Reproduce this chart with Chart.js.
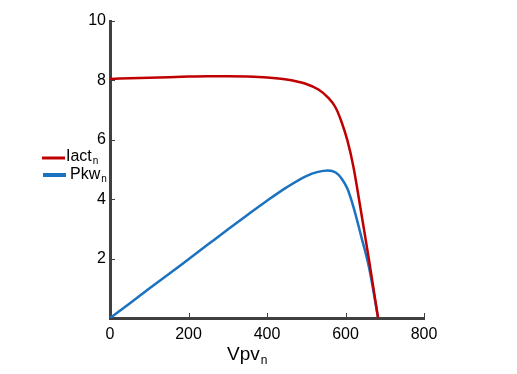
<!DOCTYPE html>
<html>
<head>
<meta charset="utf-8">
<script src="https://cdn.jsdelivr.net/npm/chart.js@4"></script>
<style>
  html, body { margin: 0; padding: 0; background: #fff; }
  #wrap { width: 517px; height: 374px; }
</style>
</head>
<body>
<div id="wrap"><canvas id="ivChart" width="517" height="374"></canvas></div>
<script>
// Normalized PV curve data
const vpv = [0, 50, 100, 150, 200, 250, 300, 350, 400, 450, 500, 530, 555, 575, 590, 605, 620, 640, 660, 683];
const iact = [8.05, 8.07, 8.09, 8.11, 8.13, 8.14, 8.14, 8.13, 8.1, 8.03, 7.88, 7.7, 7.43, 7.08, 6.6, 5.97, 5.1, 3.55, 1.95, 0];
const pkw = [0, 0.49, 0.99, 1.48, 1.98, 2.48, 2.98, 3.47, 3.95, 4.4, 4.78, 4.92, 4.97, 4.9, 4.7, 4.35, 3.75, 2.75, 1.7, 0];
const xTicks = [0, 200, 400, 600, 800];
const yTicks = [2, 4, 6, 8, 10];

const RED = '#c00000';
const BLUE = '#1a72c0';
const AXIS = '#404040';
const FONT = "'Liberation Sans', Arial, sans-serif";

function pts(ys) {
  return vpv.map((v, i) => ({ x: v, y: ys[i] }));
}

// text with a small subscript "n"
function subText(ctx, x, y, main, sub, size) {
  ctx.font = size + 'px ' + FONT;
  ctx.textAlign = 'left';
  ctx.textBaseline = 'middle';
  ctx.fillStyle = '#000';
  ctx.fillText(main, x, y);
  const w = ctx.measureText(main).width;
  ctx.font = Math.round(size * 0.62) + 'px ' + FONT;
  ctx.fillText(sub, x + w + 1, y + size * 0.28);
}

// inward tick marks, legend and x title
const extras = {
  id: 'extras',
  afterDraw(chart) {
    const ctx = chart.ctx;
    const xs = chart.scales.x, ys = chart.scales.y;
    const area = chart.chartArea;
    ctx.save();
    ctx.strokeStyle = AXIS;
    ctx.lineWidth = 1;
    xTicks.slice(1).forEach(t => {
      const px = Math.round(xs.getPixelForValue(t)) + 0.5;
      ctx.beginPath();
      ctx.moveTo(px, area.bottom);
      ctx.lineTo(px, area.bottom - 5);
      ctx.stroke();
    });
    yTicks.forEach(t => {
      const py = Math.round(ys.getPixelForValue(t)) + 0.5;
      ctx.beginPath();
      ctx.moveTo(area.left, py);
      ctx.lineTo(area.left + 5, py);
      ctx.stroke();
    });

    // legend
    ctx.lineCap = 'butt';
    ctx.strokeStyle = RED;
    ctx.lineWidth = 3;
    ctx.beginPath();
    ctx.moveTo(42, 158);
    ctx.lineTo(65, 158);
    ctx.stroke();
    subText(ctx, 66, 157, 'Iact', 'n', 16);
    ctx.strokeStyle = BLUE;
    ctx.lineWidth = 4;
    ctx.beginPath();
    ctx.moveTo(43, 175);
    ctx.lineTo(66, 175);
    ctx.stroke();
    subText(ctx, 70, 175, 'Pkw', 'n', 16);

    // x axis title
    subText(ctx, 227, 355, 'Vpv', 'n', 19);
    ctx.restore();
  }
};

function initializeChart() {
  const ctx = document.getElementById('ivChart').getContext('2d');
  new Chart(ctx, {
    type: 'line',
    data: {
      datasets: [
        {
          label: 'Iact',
          data: pts(iact),
          borderColor: RED,
          borderWidth: 2.5,
          pointRadius: 0,
          cubicInterpolationMode: 'monotone',
          fill: false
        },
        {
          label: 'Pkw',
          data: pts(pkw),
          borderColor: BLUE,
          borderWidth: 2.5,
          pointRadius: 0,
          cubicInterpolationMode: 'monotone',
          fill: false
        }
      ]
    },
    options: {
      responsive: false,
      animation: false,
      layout: { padding: { left: 0, right: 93, top: 21, bottom: 0 } },
      plugins: {
        legend: { display: false },
        tooltip: { enabled: false }
      },
      scales: {
        x: {
          type: 'linear',
          min: 0,
          max: 800,
          afterBuildTicks: s => { s.ticks = xTicks.map(v => ({ value: v })); },
          afterFit: s => { s.height = 56; },
          grid: { display: false, drawTicks: false },
          border: { color: AXIS, width: 3 },
          ticks: {
            color: '#000',
            padding: 7,
            font: { family: FONT, size: 16 }
          }
        },
        y: {
          min: 0,
          max: 10,
          afterBuildTicks: s => { s.ticks = yTicks.map(v => ({ value: v })); },
          afterFit: s => { s.width = 110; },
          grid: { display: false, drawTicks: false },
          border: { color: AXIS, width: 3 },
          ticks: {
            color: '#000',
            padding: 4,
            font: { family: FONT, size: 16 }
          }
        }
      }
    },
    plugins: [extras]
  });
}

document.addEventListener('DOMContentLoaded', initializeChart);
</script>
</body>
</html>
